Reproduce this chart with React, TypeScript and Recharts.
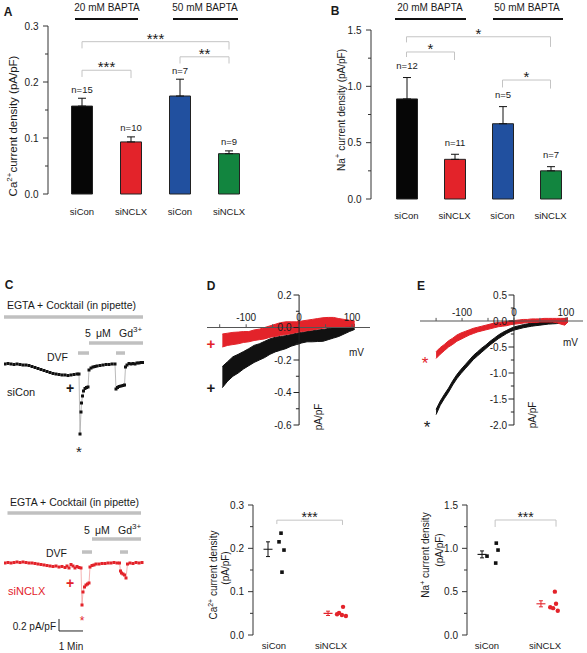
import React from 'react';
import {
  BarChart,
  Bar,
  Cell,
  ErrorBar,
  LabelList,
  XAxis,
  YAxis,
  ReferenceLine,
  ScatterChart,
  Scatter,
  LineChart,
  Line,
  ComposedChart,
  Area,
} from 'recharts';

const W = 587;
const H = 653;
const FONT = '"Liberation Sans", Arial, Helvetica, sans-serif';
const INK = '#1a1a1a';
const RED = '#e3232a';
const BRACKET = '#c4c4c4';
const DRUG = '#c0c0c0';

// A / B: bar summaries (20 mM / 50 mM BAPTA)
const groups = ['c20', 'n20', 'c50', 'n50'];
const groupNames = ['siCon', 'siNCLX', 'siCon', 'siNCLX'];
const barColors = ['#060606', '#e3232a', '#21509f', '#12853f'];
const caMean = [0.157, 0.093, 0.175, 0.072];
const caSem = [0.014, 0.009, 0.03, 0.005];
const caN = [15, 10, 7, 9];
const naMean = [0.888, 0.352, 0.668, 0.25];
const naSem = [0.19, 0.045, 0.152, 0.037];
const naN = [12, 11, 5, 7];

const caBrackets = [
  { from: 'c20', to: 'n20', y: 0.221, l: 0.209, r: 0.207, stars: '***' },
  { from: 'c20', to: 'n50', y: 0.272, l: 0.26, r: 0.258, stars: '***' },
  { from: 'c50', to: 'n50', y: 0.245, l: 0.233, r: 0.233, stars: '**' },
];
const naBrackets = [
  { from: 'c20', to: 'n20', y: 1.305, l: 1.26, r: 1.234, stars: '*' },
  { from: 'c20', to: 'n50', y: 1.44, l: 1.39, r: 1.35, stars: '*' },
  { from: 'c50', to: 'n50', y: 1.056, l: 0.99, r: 0.98, stars: '*' },
];

// C: time course (s, pA/pF)
const conTime = [2.5, 10, 17.5, 25, 32.5, 40, 47.5, 55, 62.5, 70, 77.5, 85, 92.5, 100, 107.5, 115, 122.5, 130, 137.5, 145, 152.5, 160, 167.5, 175, 182.5, 187.5, 190, 192.5, 193.75, 196.25, 198.75, 202.5, 206.25, 210, 212.5, 217.5, 222.5, 227.5, 232.5, 240, 247.5, 255, 262.5, 270, 277.5, 280, 283.75, 287.5, 292.5, 297.5, 301.25, 303.75, 307.5, 312.5, 317.5, 322.5, 327.5, 332.5, 337.5, 342.5, 347.5];
const conCur = [0, 0.008, 0, -0.008, 0, -0.008, -0.017, -0.017, -0.025, -0.042, -0.058, -0.075, -0.092, -0.108, -0.125, -0.142, -0.158, -0.167, -0.175, -0.183, -0.183, -0.192, -0.183, -0.175, -0.167, -0.167, -1.167, -0.8, -0.65, -0.533, -0.45, -0.408, -0.392, -0.383, -0.1, -0.067, -0.05, -0.042, -0.033, -0.025, -0.017, -0.008, -0.008, 0, 0, -0.417, -0.392, -0.375, -0.367, -0.358, -0.35, -0.05, -0.017, 0.008, 0, 0.008, 0, 0.017, 0.017, 0.025, 0.025];
const nclxTime = [2.5, 10, 17.5, 25, 32.5, 40, 47.5, 55, 62.5, 70, 77.5, 85, 92.5, 100, 107.5, 115, 122.5, 130, 137.5, 145, 152.5, 157.5, 162.5, 167.5, 172.5, 177.5, 182.5, 187.5, 192.5, 195, 197.5, 201.25, 205, 208.75, 212.5, 215, 220, 225, 230, 237.5, 245, 252.5, 260, 267.5, 275, 282.5, 288.75, 291.25, 293.75, 297.5, 301.25, 305, 308.75, 315, 322.5, 330, 337.5, 345];
const nclxCur = [0, 0.008, 0, 0.008, 0.017, 0.008, 0.017, 0.008, 0, 0, -0.008, -0.017, -0.025, -0.033, -0.042, -0.05, -0.058, -0.05, -0.067, -0.058, -0.075, -0.05, -0.083, -0.025, -0.05, -0.083, -0.058, -0.075, -0.083, -0.7, -0.483, -0.4, -0.367, -0.35, -0.333, -0.067, -0.042, -0.033, -0.017, -0.017, -0.008, -0.008, 0, 0, 0.008, 0, 0, -0.133, -0.167, -0.183, -0.2, -0.25, -0.017, 0, -0.008, 0.008, 0, 0.008];

// drug application bars: EGTA, Gd3+, DVF, DVF (start s, end s, level)
const conDrugStart = [0, 212.5, 185, 280];
const conDrugEnd = [347.5, 347.5, 212.5, 302.5];
const conDrugLevel = [0.783, 0.35, 0.183, 0.183];
const nclxDrugStart = [8.75, 220, 195, 290];
const nclxDrugEnd = [342.5, 342.5, 220, 310];
const nclxDrugLevel = [0.833, 0.4, 0.183, 0.183];
const scaleTime = [137.5, 197.5];
const scaleCur = [-0.933, -1.133];

// D: Ca2+ I-V (mV, pA/pF band)
const dMv = [-145, -135, -125, -115, -105, -95, -85, -75, -65, -55, -45, -35, -25, -15, -5, 5, 15, 25, 35, 45, 55, 65, 75, 85, 95, 105];
const dBlkLo = [-0.37, -0.33, -0.3, -0.28, -0.255, -0.235, -0.215, -0.2, -0.185, -0.165, -0.15, -0.14, -0.13, -0.115, -0.105, -0.095, -0.088, -0.088, -0.086, -0.085, -0.075, -0.065, -0.055, -0.04, -0.025, -0.012];
const dBlkHi = [-0.24, -0.21, -0.18, -0.165, -0.148, -0.13, -0.11, -0.1, -0.085, -0.07, -0.06, -0.055, -0.05, -0.043, -0.035, -0.03, -0.025, -0.02, -0.015, -0.012, -0.006, -0.002, 0, 0.006, 0.012, 0.02];
const dRedLo = [-0.12, -0.11, -0.105, -0.1, -0.092, -0.088, -0.08, -0.075, -0.07, -0.06, -0.055, -0.048, -0.043, -0.038, -0.03, -0.025, -0.02, -0.015, -0.01, -0.005, 0, 0, 0, 0.003, 0.005, 0.008];
const dRedHi = [-0.04, -0.035, -0.03, -0.028, -0.025, -0.025, -0.015, -0.01, 0, 0.01, 0.02, 0.03, 0.035, 0.035, 0.035, 0.04, 0.045, 0.05, 0.055, 0.06, 0.062, 0.062, 0.055, 0.05, 0.045, 0.04];

// E: Na+ I-V
const eMv = [-150, -142, -134, -126, -118, -110, -102, -94, -86, -78, -70, -62, -54, -46, -38, -30, -22, -14, -6, 2, 10, 18, 26, 34, 42, 50, 58, 66, 74, 82, 90, 98, 104];
const eBlkLo = [-1.8, -1.62, -1.49, -1.37, -1.23, -1.11, -1.01, -0.92, -0.83, -0.74, -0.67, -0.6, -0.53, -0.46, -0.4, -0.34, -0.29, -0.24, -0.2, -0.17, -0.15, -0.13, -0.115, -0.1, -0.09, -0.08, -0.07, -0.06, -0.055, -0.05, -0.04, -0.03, -0.02];
const eBlkHi = [-1.7, -1.54, -1.41, -1.29, -1.15, -1.03, -0.93, -0.84, -0.75, -0.66, -0.59, -0.52, -0.46, -0.39, -0.33, -0.27, -0.22, -0.18, -0.14, -0.11, -0.09, -0.07, -0.055, -0.04, -0.03, -0.02, -0.01, 0, 0.01, 0.02, 0.03, 0.05, 0.06];
const eRedLo = [-0.72, -0.64, -0.57, -0.5, -0.45, -0.39, -0.35, -0.31, -0.27, -0.24, -0.21, -0.19, -0.17, -0.15, -0.13, -0.11, -0.1, -0.09, -0.07, -0.06, -0.05, -0.04, -0.03, -0.03, -0.03, -0.02, -0.02, -0.02, -0.02, -0.03, -0.06, -0.08, -0.02];
const eRedHi = [-0.59, -0.51, -0.45, -0.38, -0.33, -0.27, -0.23, -0.2, -0.17, -0.14, -0.12, -0.1, -0.08, -0.06, -0.04, -0.03, -0.02, -0.01, 0, 0.01, 0.02, 0.03, 0.03, 0.04, 0.04, 0.04, 0.05, 0.05, 0.05, 0.05, 0.05, 0.05, 0.05];

// D/E lower: single cells (x = group position with jitter)
const caConX = [1.123, 1.088, 1.175, 1.14];
const caConY = [0.235, 0.215, 0.196, 0.145];
const caKoX = [2.21, 2.14, 2.19, 2.26, 2.105];
const caKoY = [0.065, 0.051, 0.046, 0.044, 0.048];
const caAvgX = [0.895, 1.947];
const caAvgY = [0.198, 0.05];
const caAvgE = [0.017, 0.005];
const naConX = [1.0, 1.16, 1.19, 1.15];
const naConY = [0.91, 1.06, 0.98, 0.83];
const naKoX = [2.17, 2.19, 2.09, 2.14, 2.22];
const naKoY = [0.5, 0.36, 0.32, 0.31, 0.28];
const naAvgX = [0.914, 1.93];
const naAvgY = [0.93, 0.36];
const naAvgE = [0.04, 0.035];

const layer: React.CSSProperties = { position: 'absolute', left: 0, top: 0 };

// plot box in page pixels -> chart margin
const frame = (l: number, t: number, r: number, b: number, yw = 0, xh = 0) => ({
  top: t,
  left: l - yw,
  right: W - r,
  bottom: H - b - xh,
});

const yTick = (majors: number[], digits: number, gap = 9) => (p: any) => {
  const v = Number(p.payload.value);
  const major = majors.some((m) => Math.abs(m - v) < 1e-6);
  return (
    <g>
      <line x1={p.x - (major ? 5 : 3)} x2={p.x} y1={p.y} y2={p.y} stroke="#333" />
      {major && (
        <text x={p.x - gap} y={p.y} textAnchor="end" dominantBaseline="central" fontSize={10} fill={INK}>
          {v.toFixed(digits)}
        </text>
      )}
    </g>
  );
};

const starLabel = (value: string, size = 15) => ({ value, position: 'top', offset: -2, fontSize: size, fill: INK });

function BarPanel({ mean, sem, n, brackets, max, ticks, majors, digits, plotL, plotT, plotB, band, padL, tickMargin, nGap }: any) {
  const rows = groups.map((g, i) => ({ g, v: mean[i], eb: [0, sem[i]], n: `n=${n[i]}` }));
  const plotR = plotL + padL + band * groups.length;
  const nLabel = (p: any) => {
    const vb = p.viewBox || p;
    const i = p.index;
    const top = vb.y - (sem[i] / mean[i]) * vb.height;
    return (
      <text key={`n${i}`} x={vb.x + vb.width / 2} y={top - nGap} textAnchor="middle" fontSize={9.5} fill={INK}>
        {rows[i].n}
      </text>
    );
  };
  return (
    <div style={layer}>
      <BarChart width={W} height={H} data={rows} margin={frame(plotL, plotT, plotR, plotB, 40, 30)} barSize={21}>
        <XAxis
          dataKey="g"
          height={30}
          axisLine={false}
          tickLine={false}
          tickSize={0}
          tickMargin={tickMargin}
          padding={{ left: padL, right: 0 }}
          interval={0}
          tickFormatter={(_v: any, i: number) => groupNames[i]}
          tick={{ fontSize: 9.5, fill: INK }}
        />
        <YAxis
          type="number"
          domain={[0, max]}
          ticks={ticks}
          interval={0}
          width={40}
          tickSize={0}
          tickMargin={0}
          tickLine={false}
          axisLine={{ stroke: '#333' }}
          tick={yTick(majors, digits, 9.5)}
        />
        {brackets.map((b: any, i: number) => [
          <ReferenceLine key={`bl${i}`} segment={[{ x: b.from, y: b.l }, { x: b.from, y: b.y }]} stroke={BRACKET} />,
          <ReferenceLine key={`bh${i}`} segment={[{ x: b.from, y: b.y }, { x: b.to, y: b.y }]} stroke={BRACKET} label={starLabel(b.stars)} />,
          <ReferenceLine key={`br${i}`} segment={[{ x: b.to, y: b.r }, { x: b.to, y: b.y }]} stroke={BRACKET} />,
        ])}
        <Bar dataKey="v" stroke="#222" strokeWidth={1} isAnimationActive={false}>
          {rows.map((r, i) => (
            <Cell key={r.g} fill={barColors[i]} />
          ))}
          <ErrorBar dataKey="eb" width={4} stroke="#111" strokeWidth={1} direction="y" />
          <LabelList dataKey="n" content={nLabel} />
        </Bar>
      </BarChart>
    </div>
  );
}

function TracePanel({ time, cur, dotColor, lineColor, plotT, plotB, dStart, dEnd, dLevel, scale }: any) {
  const rows = time.map((t: number, i: number) => ({ t, v: cur[i] }));
  const dot = (p: any) => <rect key={`d${p.index}`} x={p.cx - 1.5} y={p.cy - 1.5} width={3} height={3} fill={dotColor} />;
  return (
    <div style={layer}>
      <LineChart width={W} height={H} data={rows} margin={frame(4, plotT, 144, plotB)}>
        <XAxis type="number" dataKey="t" domain={[0, 350]} hide allowDataOverflow />
        <YAxis type="number" domain={[-1.3, 1.1]} hide allowDataOverflow />
        {dStart.map((s: number, i: number) => (
          <ReferenceLine key={`drug${i}`} segment={[{ x: s, y: dLevel[i] }, { x: dEnd[i], y: dLevel[i] }]} stroke={DRUG} strokeWidth={3.5} />
        ))}
        {scale && (
          <ReferenceLine segment={[{ x: scaleTime[0], y: scaleCur[0] }, { x: scaleTime[0], y: scaleCur[1] }]} stroke="#222" />
        )}
        {scale && (
          <ReferenceLine segment={[{ x: scaleTime[0], y: scaleCur[1] }, { x: scaleTime[1], y: scaleCur[1] }]} stroke="#222" />
        )}
        <Line
          type="linear"
          dataKey="v"
          stroke={lineColor}
          strokeWidth={0.8}
          dot={dot}
          activeDot={false}
          isAnimationActive={false}
        />
      </LineChart>
    </div>
  );
}

function IVPanel({ mv, blkLo, blkHi, redLo, redHi, cfg }: any) {
  const rows = mv.map((m: number, i: number) => ({ mv: m, bk: [blkLo[i], blkHi[i]], rd: [redLo[i], redHi[i]] }));
  return (
    <div style={layer}>
      <ComposedChart width={W} height={H} data={rows} margin={frame(cfg.l, cfg.t, cfg.r, cfg.b)}>
        <XAxis type="number" dataKey="mv" domain={cfg.xDom} hide allowDataOverflow />
        <YAxis type="number" domain={cfg.yDom} hide allowDataOverflow />
        <ReferenceLine y={0} stroke="#555" strokeWidth={1.2} />
        <ReferenceLine x={0} stroke="#222" />
        {cfg.yMajor.map((v: number) => (
          <ReferenceLine
            key={`ym${v}`}
            segment={[{ x: -cfg.tk, y: v }, { x: 0, y: v }]}
            stroke="#222"
            label={{ value: v.toFixed(1), position: 'left', offset: cfg.yOff, fontSize: 10, fill: INK }}
          />
        ))}
        {cfg.yMinor.map((v: number) => (
          <ReferenceLine key={`yn${v}`} segment={[{ x: -cfg.tkMinor, y: v }, { x: 0, y: v }]} stroke="#222" />
        ))}
        {cfg.xTicks.map((m: number) => (
          <ReferenceLine
            key={`xt${m}`}
            segment={[{ x: m, y: 0 }, { x: m, y: cfg.xtk }]}
            stroke="#555"
            label={
              cfg.xLabeled.includes(m)
                ? { value: String(m), position: 'top', offset: cfg.xOff, fontSize: 10, fill: INK }
                : undefined
            }
          />
        ))}
        <Area type="linear" dataKey="bk" stroke="#111" strokeWidth={1} fill="#111" fillOpacity={1} dot={false} activeDot={false} isAnimationActive={false} />
        <Area type="linear" dataKey="rd" stroke={RED} strokeWidth={1} fill={RED} fillOpacity={1} dot={false} activeDot={false} isAnimationActive={false} />
      </ComposedChart>
    </div>
  );
}

function DotPanel({ cfg, conX, conY, koX, koY, avgX, avgY, avgE }: any) {
  const con = conX.map((x: number, i: number) => ({ x, y: conY[i] }));
  const ko = koX.map((x: number, i: number) => ({ x, y: koY[i] }));
  const avgCon = [{ x: avgX[0], y: avgY[0], e: avgE[0] }];
  const avgKo = [{ x: avgX[1], y: avgY[1], e: avgE[1] }];
  const square = (p: any) => <rect x={p.cx - 1.8} y={p.cy - 1.8} width={3.6} height={3.6} fill="#111" />;
  const circle = (p: any) => <circle cx={p.cx} cy={p.cy} r={2.2} fill={RED} />;
  const meanLine = (color: string) => (p: any) => (
    <line x1={p.cx - 4.5} x2={p.cx + 4.5} y1={p.cy} y2={p.cy} stroke={color} strokeWidth={1.1} />
  );
  const b = cfg.bracket;
  return (
    <div style={layer}>
      <ScatterChart width={W} height={H} margin={frame(cfg.l, cfg.t, cfg.r, cfg.b, 40, 10)}>
        <XAxis
          type="number"
          dataKey="x"
          domain={cfg.xDom}
          ticks={[1, 2]}
          interval={0}
          height={10}
          allowDataOverflow
          axisLine={false}
          tickLine={false}
          tickSize={0}
          tickMargin={7}
          tickFormatter={(v: number) => (v === 1 ? 'siCon' : 'siNCLX')}
          tick={{ fontSize: 9.5, fill: INK }}
        />
        <YAxis
          type="number"
          dataKey="y"
          domain={[0, cfg.yMax]}
          ticks={cfg.ticks}
          interval={0}
          width={40}
          tickSize={0}
          tickMargin={0}
          tickLine={false}
          axisLine={{ stroke: '#333' }}
          tick={yTick(cfg.majors, 1, 9)}
        />
        <ReferenceLine segment={[{ x: b.x1, y: b.l }, { x: b.x1, y: b.y }]} stroke={BRACKET} />
        <ReferenceLine segment={[{ x: b.x1, y: b.y }, { x: b.x2, y: b.y }]} stroke={BRACKET} label={starLabel('***', 14)} />
        <ReferenceLine segment={[{ x: b.x2, y: b.r }, { x: b.x2, y: b.y }]} stroke={BRACKET} />
        <Scatter data={avgCon} shape={meanLine('#111')} isAnimationActive={false}>
          <ErrorBar dataKey="e" direction="y" width={2} stroke="#111" strokeWidth={1} />
        </Scatter>
        <Scatter data={avgKo} shape={meanLine(RED)} isAnimationActive={false}>
          <ErrorBar dataKey="e" direction="y" width={2} stroke={RED} strokeWidth={1} />
        </Scatter>
        <Scatter data={con} shape={square} isAnimationActive={false} />
        <Scatter data={ko} shape={circle} isAnimationActive={false} />
      </ScatterChart>
    </div>
  );
}

const T = ({ x, y, size = 10, anchor = 'start', rot = false, fill = INK, bold = false, children }: any) => (
  <text
    x={rot ? 0 : x}
    y={rot ? 0 : y}
    transform={rot ? `translate(${x} ${y}) rotate(-90)` : undefined}
    fontSize={size}
    textAnchor={anchor}
    dominantBaseline="central"
    fill={fill}
    fontWeight={bold ? 700 : 400}
    style={{ whiteSpace: 'pre' }}
  >
    {children}
  </text>
);

const Star = ({ x, y, size = 15, fill = INK }: any) => (
  <T x={x} y={y + size * 0.25} size={size} anchor="middle" fill={fill}>
    *
  </T>
);

function Notes() {
  return (
    <svg style={{ ...layer, pointerEvents: 'none' }} width={W} height={H}>
      {/* panel letters */}
      <T x={8} y={12} size={12} bold anchor="middle">A</T>
      <T x={335} y={11} size={12} bold anchor="middle">B</T>
      <T x={9} y={285} size={12} bold anchor="middle">C</T>
      <T x={211} y={286} size={12} bold anchor="middle">D</T>
      <T x={421} y={286} size={12} bold anchor="middle">E</T>

      {/* BAPTA headers */}
      <T x={107} y={7.5} anchor="middle">20 mM BAPTA</T>
      <T x={205} y={7.5} anchor="middle">50 mM BAPTA</T>
      <T x={430} y={7.5} anchor="middle">20 mM BAPTA</T>
      <T x={527} y={7.5} anchor="middle">50 mM BAPTA</T>
      <line x1={75} x2={138} y1={19} y2={19} stroke="#111" strokeWidth={2} />
      <line x1={173} x2={238} y1={19} y2={19} stroke="#111" strokeWidth={2} />
      <line x1={395} x2={466} y1={19} y2={19} stroke="#111" strokeWidth={2} />
      <line x1={493} x2={563} y1={19} y2={19} stroke="#111" strokeWidth={2} />

      {/* axis titles A/B */}
      <T x={13} y={126} size={11.5} anchor="middle" rot>
        Ca<tspan dy={-4} fontSize={8}>2+</tspan>
        <tspan dy={4}>current density (pA/pF)</tspan>
      </T>
      <T x={341} y={110} size={10} anchor="middle" rot>
        Na<tspan dy={-4} fontSize={8}>+</tspan>
        <tspan dy={4}> current density (pA/pF)</tspan>
      </T>

      {/* C, siCon */}
      <T x={71.5} y={305} size={10.5} anchor="middle">EGTA + Cocktail (in pipette)</T>
      <text y={333} fontSize={10.5} dominantBaseline="central" fill={INK}>
        <tspan x={85}>5</tspan>
        <tspan x={96}>μM</tspan>
        <tspan x={119}>Gd</tspan>
        <tspan dy={-4} fontSize={8}>3+</tspan>
      </text>
      <T x={68} y={357} size={10.5} anchor="end">DVF</T>
      <T x={7} y={392} size={11}>siCon</T>
      <T x={70} y={388} size={14} bold anchor="middle">+</T>
      <Star x={79} y={448} size={15} />

      {/* C, siNCLX */}
      <T x={74.5} y={502} size={10.5} anchor="middle">EGTA + Cocktail (in pipette)</T>
      <text y={530} fontSize={10.5} dominantBaseline="central" fill={INK}>
        <tspan x={84}>5</tspan>
        <tspan x={95}>μM</tspan>
        <tspan x={118}>Gd</tspan>
        <tspan dy={-4} fontSize={8}>3+</tspan>
      </text>
      <T x={67} y={553} size={10.5} anchor="end">DVF</T>
      <T x={8} y={591} size={11} fill={RED}>siNCLX</T>
      <T x={70} y={583} size={14} bold anchor="middle" fill={RED}>+</T>
      <Star x={82} y={618} size={12} fill={RED} />
      <T x={56} y={626} size={10} anchor="end">0.2 pA/pF</T>
      <T x={71} y={646} size={10} anchor="middle">1 Min</T>

      {/* D */}
      <T x={349} y={352} size={10}>mV</T>
      <T x={318} y={417} size={10} anchor="middle" rot>pA/pF</T>
      <T x={211} y={343} size={15} bold anchor="middle" fill={RED}>+</T>
      <T x={211} y={387} size={15} bold anchor="middle">+</T>

      {/* E */}
      <T x={563} y={342} size={10}>mV</T>
      <T x={532} y={415} size={10} anchor="middle" rot>pA/pF</T>
      <Star x={425} y={359} size={17} fill={RED} />
      <Star x={427} y={423} size={17} />

      {/* lower D/E axis titles */}
      <T x={213} y={575} size={10} anchor="middle" rot>
        Ca<tspan dy={-3.5} fontSize={7}>2+</tspan>
        <tspan dy={3.5}> current density</tspan>
      </T>
      <T x={225} y={568} size={10} anchor="middle" rot>(pA/pF)</T>
      <T x={425} y={555} size={10} anchor="middle" rot>
        Na<tspan dy={-3.5} fontSize={7}>+</tspan>
        <tspan dy={3.5}> current density</tspan>
      </T>
      <T x={439} y={550} size={10} anchor="middle" rot>(pA/pF)</T>
    </svg>
  );
}

const dCfg = {
  l: 207, r: 370, t: 295, b: 425,
  xDom: [-174, 134], yDom: [-0.6, 0.2],
  yMajor: [0.2, 0, -0.2, -0.4, -0.6], yMinor: [0.1, -0.1, -0.3, -0.5],
  tk: 10.5, tkMinor: 6, yOff: 2,
  xTicks: [-150, -100, -50, 0, 50, 100], xLabeled: [-100, 0, 100], xtk: 0.02, xOff: 3.5,
};
const eCfg = {
  l: 420, r: 583, t: 295, b: 425,
  xDom: [-181, 133], yDom: [-2, 0.5],
  yMajor: [0.5, 0, -0.5, -1, -1.5, -2], yMinor: [0.25, -0.25, -0.75, -1.25, -1.75],
  tk: 10.5, tkMinor: 6, yOff: 1.5,
  xTicks: [-150, -100, -50, 0, 50, 100], xLabeled: [-100, 0, 100], xtk: 0.06, xOff: 1.5,
};
const caDotCfg = {
  l: 253, r: 365.3, t: 505, b: 635, xDom: [0.632, 2.6], yMax: 0.3,
  ticks: [0, 0.05, 0.1, 0.15, 0.2, 0.25, 0.3], majors: [0, 0.1, 0.2, 0.3],
  bracket: { x1: 1.05, x2: 2.2, y: 0.265, l: 0.256, r: 0.254 },
};
const naDotCfg = {
  l: 467, r: 574, t: 505, b: 635, xDom: [0.655, 2.5], yMax: 1.5,
  ticks: [0, 0.25, 0.5, 0.75, 1, 1.25, 1.5], majors: [0, 0.5, 1, 1.5],
  bracket: { x1: 1.14, x2: 2.19, y: 1.327, l: 1.246, r: 1.25 },
};

export default function App() {
  return (
    <div style={{ position: 'absolute', left: 0, top: 0, width: W, height: H, background: '#fff', fontFamily: FONT, overflow: 'hidden' }}>
      <BarPanel
        mean={caMean} sem={caSem} n={caN} brackets={caBrackets}
        max={0.3} ticks={[0, 0.05, 0.1, 0.15, 0.2, 0.25, 0.3]} majors={[0, 0.1, 0.2, 0.3]} digits={1}
        plotL={48} plotT={26} plotB={194} band={49} padL={9.5} tickMargin={14} nGap={5.5}
      />
      <BarPanel
        mean={naMean} sem={naSem} n={naN} brackets={naBrackets}
        max={1.5} ticks={[0, 0.25, 0.5, 0.75, 1, 1.25, 1.5]} majors={[0, 0.5, 1, 1.5]} digits={1}
        plotL={371} plotT={30} plotB={199} band={48} padL={11.5} tickMargin={13.5} nGap={8.5}
      />
      <TracePanel
        time={conTime} cur={conCur} dotColor="#111" lineColor="#a8a8a8" plotT={298} plotB={442}
        dStart={conDrugStart} dEnd={conDrugEnd} dLevel={conDrugLevel} scale={false}
      />
      <TracePanel
        time={nclxTime} cur={nclxCur} dotColor={RED} lineColor="#f2a0a0" plotT={497} plotB={641}
        dStart={nclxDrugStart} dEnd={nclxDrugEnd} dLevel={nclxDrugLevel} scale
      />
      <IVPanel mv={dMv} blkLo={dBlkLo} blkHi={dBlkHi} redLo={dRedLo} redHi={dRedHi} cfg={dCfg} />
      <IVPanel mv={eMv} blkLo={eBlkLo} blkHi={eBlkHi} redLo={eRedLo} redHi={eRedHi} cfg={eCfg} />
      <DotPanel cfg={caDotCfg} conX={caConX} conY={caConY} koX={caKoX} koY={caKoY} avgX={caAvgX} avgY={caAvgY} avgE={caAvgE} />
      <DotPanel cfg={naDotCfg} conX={naConX} conY={naConY} koX={naKoX} koY={naKoY} avgX={naAvgX} avgY={naAvgY} avgE={naAvgE} />
      <Notes />
    </div>
  );
}
